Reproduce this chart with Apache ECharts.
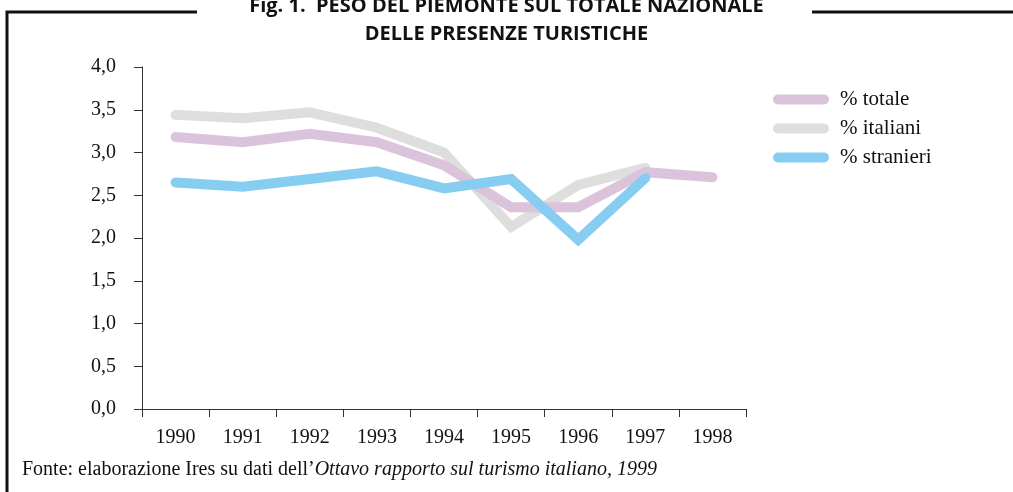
<!DOCTYPE html>
<html>
<head>
<meta charset="utf-8">
<script src="https://cdn.jsdelivr.net/npm/echarts@6/dist/echarts.min.js"></script>
<style>
  html, body { margin: 0; padding: 0; background: #fff; }
  #chart { width: 1013px; height: 492px; }
</style>
</head>
<body>
<div id="chart"></div>
<script>
// anni
var years = ['1990', '1991', '1992', '1993', '1994', '1995', '1996', '1997', '1998'];
// serie (% sul totale nazionale)
var totale = [3.18, 3.12, 3.22, 3.12, 2.85, 2.36, 2.36, 2.77, 2.71];
var italiani = [3.44, 3.40, 3.47, 3.29, 3.00, 2.13, 2.62, 2.82, null];
var stranieri = [2.65, 2.60, 2.69, 2.78, 2.58, 2.69, 1.98, 2.70, null];

var serif = '"Liberation Serif", "DejaVu Serif", serif';
var capsule = 'path://M5,0 L51,0 A5,5 0 0 1 51,10 L5,10 A5,5 0 0 1 5,0 Z';

var chart = echarts.init(document.getElementById('chart'));

function line(name, data, color, z) {
  return {
    name: name,
    type: 'line',
    data: data,
    symbol: 'none',
    lineStyle: { color: color, width: 10, cap: 'round', join: 'miter' },
    itemStyle: { color: color },
    z: z
  };
}

chart.setOption({
  animation: false,
  grid: { left: 142, right: 267, top: 67, bottom: 83 },
  title: [{
    text: 'Fig. 1.  PESO DEL PIEMONTE SUL TOTALE NAZIONALE\nDELLE PRESENZE TURISTICHE',
    left: 'center',
    top: -13,
    textStyle: {
      fontFamily: '"Liberation Sans Narrow", "Open Sans", sans-serif',
      fontWeight: 'bold', fontSize: 20, lineHeight: 28, color: '#111'
    }
  }],
  legend: {
    orient: 'vertical',
    left: 768,
    top: 84,
    icon: capsule,
    itemWidth: 56,
    itemHeight: 10,
    itemGap: 8,
    textStyle: { fontFamily: serif, fontSize: 21, color: '#111', padding: [0, 0, 0, 6] },
    data: ['% totale', '% italiani', '% stranieri']
  },
  xAxis: {
    type: 'category',
    data: years,
    boundaryGap: true,
    axisLine: { lineStyle: { color: '#333', width: 1 } },
    axisTick: { show: true, length: 8, lineStyle: { color: '#333' } },
    axisLabel: { margin: 19, fontFamily: serif, fontSize: 20, color: '#111' }
  },
  yAxis: {
    type: 'value',
    min: 0, max: 4, interval: 0.5,
    splitLine: { show: false },
    axisLine: { show: true, lineStyle: { color: '#333', width: 1 } },
    axisTick: { show: true, length: 8, lineStyle: { color: '#333' } },
    axisLabel: {
      margin: 26, fontFamily: serif, fontSize: 20, color: '#111',
      formatter: function (v) { return v.toFixed(1).replace('.', ','); }
    }
  },
  series: [
    line('% italiani', italiani, '#dedede', 2),
    line('% totale', totale, '#dcc3dc', 3),
    line('% stranieri', stranieri, '#87cdf2', 4)
  ],
  graphic: [
    { type: 'polyline', shape: { points: [[197, 12], [7, 12], [7, 492]] },
      style: { stroke: '#111', lineWidth: 3, fill: null } },
    { type: 'line', shape: { x1: 812, y1: 12, x2: 1013, y2: 12 },
      style: { stroke: '#111', lineWidth: 3 } },
    { type: 'text', left: 22, top: 460,
      style: {
        text: '{n|Fonte: elaborazione Ires su dati dell\u2019}{i|Ottavo rapporto sul turismo italiano, 1999}',
        rich: {
          n: { fontFamily: serif, fontSize: 20, fill: '#111' },
          i: { fontFamily: serif, fontSize: 20, fontStyle: 'italic', fill: '#111' }
        }
      }
    }
  ]
});
</script>
</body>
</html>
